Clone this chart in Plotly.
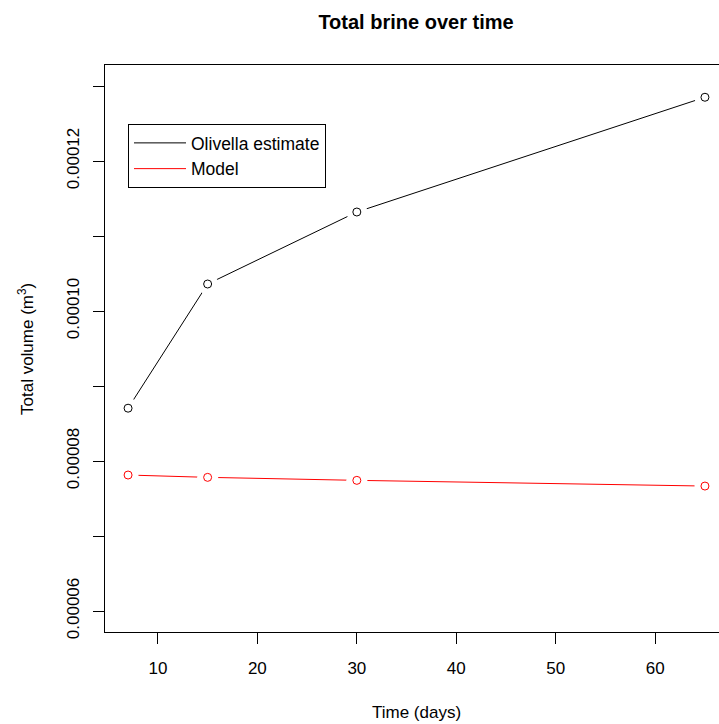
import plotly.graph_objects as go

days = [7, 15, 30, 65]
olivella = [0.00008704, 0.0001036, 0.0001132, 0.0001285]
model = [0.00007813, 0.00007782, 0.00007742, 0.00007666]

series_names = ["Olivella estimate", "Model"]
series_colors = ["black", "red"]
x_ticks = [10, 20, 30, 40, 50, 60]
y_ticks = [0.00006, 0.00008, 0.00010, 0.00012]
y_labels = ["0.00006", "0.00008", "0.00010", "0.00012"]

W, H = 719, 724
L, R, T, B = 105, 0, 65, 92
FONT = "Liberation Sans, Arial, sans-serif"

fig = go.Figure()
for name, ys, col in zip(series_names, [olivella, model], series_colors):
    # line with white gaps around points (R type="b")
    fig.add_trace(go.Scatter(x=days, y=ys, mode="lines+markers", showlegend=False,
                             line=dict(color=col, width=1),
                             marker=dict(symbol="circle", size=21, color="white",
                                         line=dict(width=0)),
                             hoverinfo="skip"))
    fig.add_trace(go.Scatter(x=days, y=ys, mode="markers", showlegend=False, name=name,
                             marker=dict(symbol="circle-open", size=8, color=col,
                                         line=dict(width=1, color=col))))
for name, col in zip(series_names, series_colors):
    fig.add_trace(go.Scatter(x=[None], y=[None], mode="lines", name=name,
                             line=dict(color=col, width=1)))

plot_w = W - L - R
plot_h = H - T - B
fig.update_layout(
    width=W, height=H,
    margin=dict(l=L, r=R, t=T, b=B, pad=0),
    paper_bgcolor="white", plot_bgcolor="white",
    font=dict(family=FONT, size=17, color="black"),
    title=dict(text="<b>Total brine over time</b>", xref="container", yref="container",
               x=416 / W, y=1 - 21.5 / H, xanchor="center", yanchor="middle",
               font=dict(size=20, family=FONT, color="black")),
    showlegend=True,
    legend=dict(x=(128 - L) / plot_w, y=(H - B - 124) / plot_h, xanchor="left", yanchor="top",
                bordercolor="black", borderwidth=1, bgcolor="white",
                font=dict(size=17.5, family=FONT, color="black"), itemwidth=52,
                tracegroupgap=0),
    xaxis=dict(range=[4.68, 4.68 + plot_w / 9.946], tickvals=x_ticks,
               ticks="outside", ticklen=11, tickcolor="black", tickwidth=1,
               showline=True, linecolor="black", linewidth=1, mirror=True,
               showgrid=False, zeroline=False, ticklabelstandoff=10),
    yaxis=dict(range=[5.72e-5, 1.328e-4], tickvals=y_ticks, ticktext=y_labels,
               tickangle=-90,
               ticks="outside", ticklen=11, tickcolor="black", tickwidth=1,
               minor=dict(tick0=0, dtick=0.00001, ticks="outside", ticklen=11,
                          tickcolor="black", tickwidth=1, showgrid=False),
               showline=True, linecolor="black", linewidth=1, mirror=False,
               showgrid=False, zeroline=False, ticklabelstandoff=7),
    annotations=[
        dict(text="Time (days)", xref="paper", yref="paper",
             x=(416 - L) / plot_w, y=-(712 - (H - B)) / plot_h,
             xanchor="center", yanchor="middle", showarrow=False,
             font=dict(size=17, family=FONT, color="black")),
        dict(text="Total volume (m<sup>3</sup>)", xref="paper", yref="paper",
             x=(26 - L) / plot_w, y=(H - B - 349) / plot_h, textangle=-90,
             xanchor="center", yanchor="middle", showarrow=False,
             font=dict(size=17, family=FONT, color="black")),
    ],
)

fig.write_html("out.html", config={"displayModeBar": False},
               post_script="document.body.style.margin='0';document.body.style.overflow='hidden';")
